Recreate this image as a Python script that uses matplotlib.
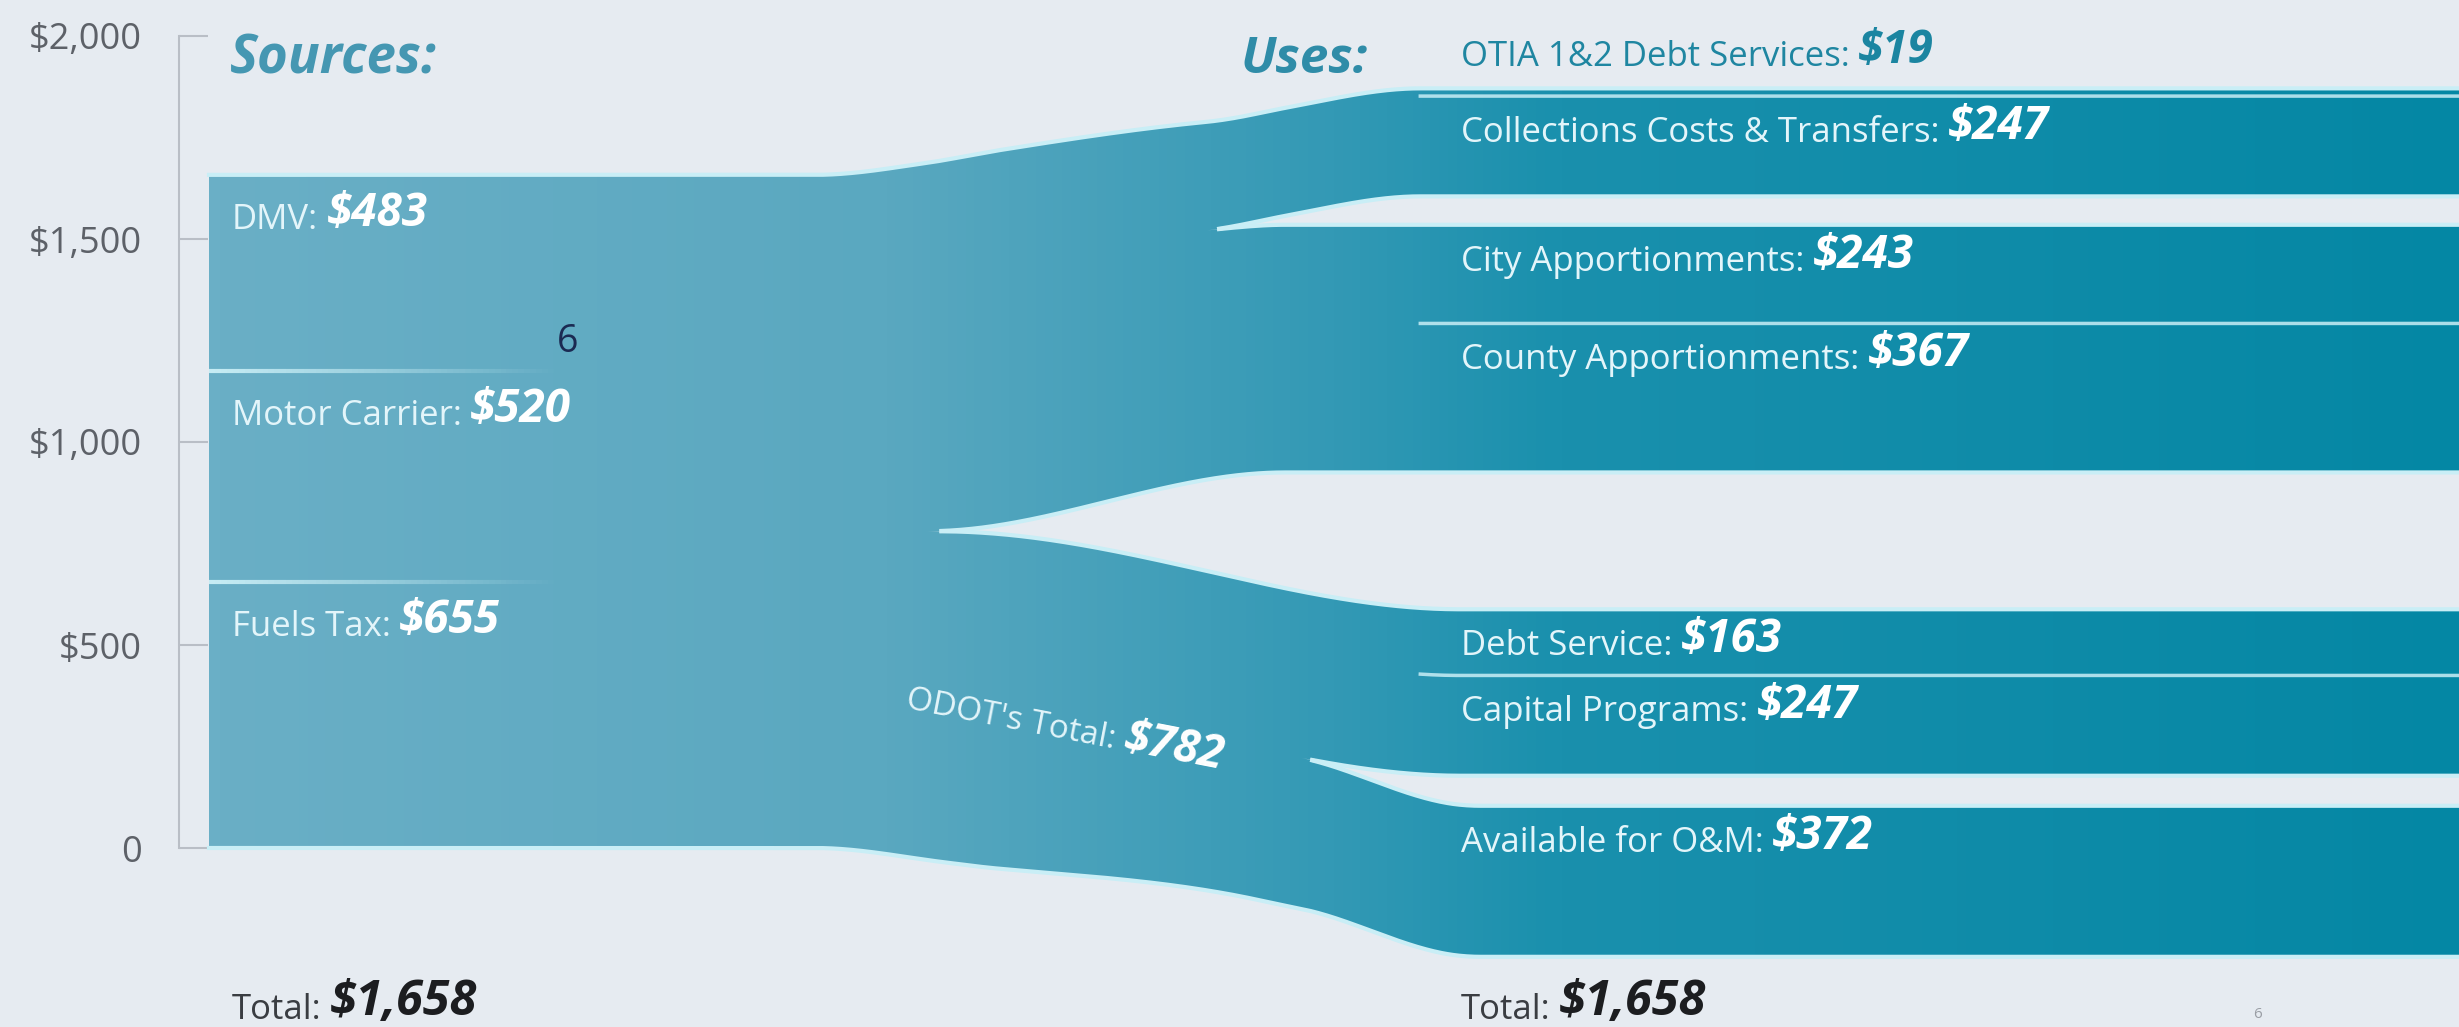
import numpy as np
import matplotlib
matplotlib.use('Agg')
import matplotlib.pyplot as plt
from matplotlib.path import Path
from matplotlib.patches import PathPatch
from matplotlib.colors import LinearSegmentedColormap
from matplotlib.collections import LineCollection

plt.rcParams['font.family'] = ['Open Sans', 'DejaVu Sans']

# --- data ($ millions) ---
source_names = ['Fuels Tax', 'Motor Carrier', 'DMV']          # bottom -> top
source_values = [655, 520, 483]
use_names = ['Available for O&M', 'Capital Programs', 'Debt Service',
             'County Apportionments', 'City Apportionments',
             'Collections Costs & Transfers', 'OTIA 1&2 Debt Services']
use_values = [372, 247, 163, 367, 243, 247, 19]
use_group = [0, 0, 0, 1, 1, 1, 1]   # 0 = ODOT's part, 1 = the rest
y_ticks = [0, 500, 1000, 1500, 2000]
y_tick_labels = ['0', '$500', '$1,000', '$1,500', '$2,000']

# --- layout (pixels of the 2459x1027 canvas) ---
W, H = 2459, 1027
PX_ZERO = 848          # row of $0
PX_PER = 0.406         # pixels per $1M
X_AXIS, X_BAND0, X_BAND1 = 179, 209, W
RIGHT_BASE = [-268, 925]                 # bottom of each group on the right
RIGHT_GAP_BELOW = [0, 74, 0, 0, 0, 70, 0]
ANCHOR = [2, 3]
MAIN_RANGE = [(945, 1460), (925, 1285)]
EXTRA_RANGE = [(1300, 1480), (1205, 1420)]
SWELL = (-45, 45)              # the flow swells a little before it splits
SWELL_IN, SWELL_OUT = (815, 1000), (1000, 1260)

BG = '#e6ebf1'
HL = '#c9eef6'
band_cmap = LinearSegmentedColormap.from_list(
    'band', [(0.0, '#6aafc6'), (0.3, '#5aa8c0'), (0.5, '#3399b5'),
             (0.6, '#1a90ad'), (1.0, '#0487a4')])


def v2y(px):
    return (PX_ZERO - px) / PX_PER


def ease(x, a, b):
    t = np.clip((x - a) / (b - a), 0, 1)
    return t * t * (3 - 2 * t)


fig = plt.figure(figsize=(W / 100, H / 100), dpi=100, facecolor=BG)
ax = fig.add_axes([0, 0, 1, 1], facecolor=BG)

# stacks
total = sum(source_values)
lb = np.concatenate([[0], np.cumsum(use_values)[:-1]])
rb = np.zeros(len(use_values))
cur = list(RIGHT_BASE)
for i, v in enumerate(use_values):
    g = use_group[i]
    cur[g] += RIGHT_GAP_BELOW[i]
    rb[i] = cur[g]
    cur[g] += v
main = [rb[ANCHOR[g]] - lb[ANCHOR[g]] for g in (0, 1)]

x = np.linspace(X_BAND0, X_BAND1, 1500)
swell = ease(x, *SWELL_IN) * (1 - ease(x, *SWELL_OUT))


def swell_at(v):
    return (SWELL[0] + (SWELL[1] - SWELL[0]) * v / total) * swell


bottoms, tops, paths = [], [], []
for i, v in enumerate(use_values):
    g = use_group[i]
    extra = (rb[i] - lb[i]) - main[g]
    shift = main[g] * ease(x, *MAIN_RANGE[g]) + extra * ease(x, *EXTRA_RANGE[g])
    b = lb[i] + shift + swell_at(lb[i])
    t = lb[i] + v + shift + swell_at(lb[i] + v)
    bottoms.append(b)
    tops.append(t)
    verts = np.vstack([np.column_stack([x, b]), np.column_stack([x[::-1], t[::-1]]), [[x[0], b[0]]]])
    paths.append(Path(verts, closed=True))

clip = PathPatch(Path.make_compound_path(*paths), transform=ax.transData,
                 facecolor='none', edgecolor='none')
ax.add_patch(clip)
grad = np.linspace(0, 1, 512).reshape(1, -1)
im = ax.imshow(grad, extent=[X_BAND0, X_BAND1, v2y(H), v2y(0)], aspect='auto',
               cmap=band_cmap, interpolation='bilinear', zorder=1)
im.set_clip_path(clip)

# highlight edges
ax.plot(x, tops[-1], color=HL, lw=3, zorder=3)
ax.plot(x, bottoms[0], color=HL, lw=3, zorder=3)
for i in range(len(use_values) - 1):
    gap = bottoms[i + 1] - tops[i]
    if rb[i + 1] - (rb[i] + use_values[i]) > 0:
        m = gap > 0.8
        ax.plot(x, np.where(m, tops[i], np.nan), color=HL, lw=3, zorder=3)
        ax.plot(x, np.where(m, bottoms[i + 1], np.nan), color=HL, lw=3, zorder=3)
    else:
        ax.plot(x, np.where(x > 1420, tops[i], np.nan), color=HL, lw=2.5, alpha=0.85, zorder=3)

# source separators on the left block, fading out
src_tops = np.cumsum(source_values)
xs = np.linspace(X_BAND0, 560, 60)
for yv in src_tops[:-1]:
    segs = [[(xs[k], yv), (xs[k + 1], yv)] for k in range(len(xs) - 1)]
    alphas = np.linspace(0.95, 0, len(segs))
    cols = [(0.8, 0.94, 0.97, a) for a in alphas]
    ax.add_collection(LineCollection(segs, colors=cols, linewidths=3, zorder=3))


def two_part(xp, yv, label, value, dy, col_l, col_v, size_l=25, size_v=33):
    t1 = ax.annotate(label, xy=(xp, yv), xytext=(0, dy), textcoords='offset points',
                     ha='left', va='baseline', fontsize=size_l, color=col_l, zorder=5)
    ax.annotate(value, xy=(1, 0), xycoords=t1, xytext=(6, 0), textcoords='offset points',
                ha='left', va='bottom', fontsize=size_v, color=col_v,
                fontweight='bold', fontstyle='italic', zorder=5)


# source labels
for name, val, top in zip(source_names, source_values, src_tops):
    two_part(232, top, name + ':', f'${val:,}', -39, '#e3f5fa', 'white')

# use labels
for i, (name, val) in enumerate(zip(use_names, use_values)):
    top = rb[i] + val
    if i == len(use_values) - 1:
        two_part(1461, top, name + ':', f'${val:,}', 16, '#1f86a1', '#1b85a1')
    else:
        two_part(1461, top, name + ':', f'${val:,}', -33, '#e3f5fa', 'white')

# totals
for xp in (232, 1461):
    two_part(xp, v2y(1019), 'Total:', f'${total:,}', 0, '#3a3d42', '#1c1d20',
             size_l=25, size_v=35)

# headings
ax.text(230, v2y(73), 'Sources:', fontsize=38, fontweight='bold', fontstyle='italic',
        color='#4597b2', ha='left', va='baseline')
ax.text(1240, v2y(73), 'Uses:', fontsize=37, fontweight='bold', fontstyle='italic',
        color='#2f8ca8', ha='left', va='baseline')

# ODOT's total, tilted along the flow
odot_total = sum(v for v, g in zip(use_values, use_group) if g == 0)
ang = -11
renderer = fig.canvas.get_renderer()
lab = ax.text(905, v2y(708), "ODOT's Total:", fontsize=24, color='#e3f5fa',
              rotation=ang, rotation_mode='anchor', ha='left', va='baseline', zorder=5)
tmp = ax.text(0, 0, "ODOT's Total:", fontsize=24)
w = tmp.get_window_extent(renderer).width + 9
tmp.remove()
off = (w * np.cos(np.radians(ang)) * 0.72, w * np.sin(np.radians(ang)) * 0.72)
ax.annotate(f'${odot_total}', xy=(905, v2y(708)), xytext=off, textcoords='offset points',
            fontsize=33, fontweight='bold', fontstyle='italic', color='white',
            rotation=ang, rotation_mode='anchor', ha='left', va='baseline', zorder=5)

# stray page marks from the source slide
ax.text(568, v2y(342), '6', fontsize=27, color='#1b2a52', ha='center', va='center', zorder=5)
ax.text(2258, v2y(1022), '6', fontsize=11, color='#9a9ea5', ha='center', va='bottom')

# axis
ax.set_xlim(0, W)
ax.set_ylim(v2y(H), v2y(0))
for s in ('top', 'right', 'bottom'):
    ax.spines[s].set_visible(False)
ax.spines['left'].set_position(('data', X_AXIS))
ax.spines['left'].set_bounds(0, 2000)
ax.spines['left'].set_color('#b9bec6')
ax.spines['left'].set_linewidth(1.5)
ax.set_xticks([])
ax.set_yticks(y_ticks)
ax.set_yticklabels(y_tick_labels)
ax.tick_params(axis='y', direction='in', length=21, width=1.5, color='#b9bec6',
               pad=27, labelsize=26, labelcolor='#5d6168')

fig.savefig('out.png', dpi=100, facecolor=BG)
